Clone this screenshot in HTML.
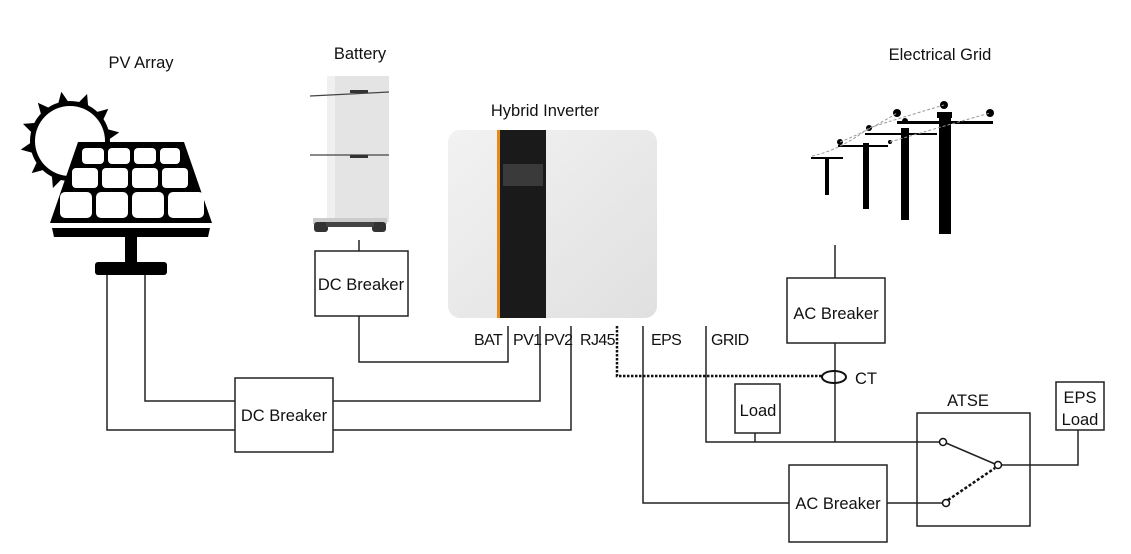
<!DOCTYPE html>
<html><head><meta charset="utf-8"><style>
html,body{margin:0;padding:0;background:#fff;width:1131px;height:554px;overflow:hidden}
svg{display:block}
text{font-family:"Liberation Sans",sans-serif;font-size:16.5px;fill:#111}
.p{font-size:16px;letter-spacing:-0.6px}
</style></head><body>
<svg width="1131" height="554" viewBox="0 0 1131 554">
<defs>
<linearGradient id="inv" x1="0" y1="0" x2="1" y2="1">
<stop offset="0" stop-color="#f2f2f2"/><stop offset="1" stop-color="#e0e0e0"/></linearGradient>
</defs>
<!-- titles -->
<text x="141" y="68" text-anchor="middle">PV Array</text>
<text x="360" y="59" text-anchor="middle">Battery</text>
<text x="545" y="116" text-anchor="middle">Hybrid Inverter</text>
<text x="940" y="60" text-anchor="middle">Electrical Grid</text>

<!-- sun -->
<g fill="#000">
<circle cx="70" cy="141" r="40"/>
<g transform="translate(70,141)">
<polygon points="-6,-37 0,-50 6,-37" transform="rotate(-10)"/>
<polygon points="-6,-37 0,-50 6,-37" transform="rotate(20)"/>
<polygon points="-6,-37 0,-50 6,-37" transform="rotate(50)"/>
<polygon points="-6,-37 0,-50 6,-37" transform="rotate(-40)"/>
<polygon points="-6,-37 0,-50 6,-37" transform="rotate(-70)"/>
<polygon points="-6,-37 0,-50 6,-37" transform="rotate(-100)"/>
<polygon points="-6,-37 0,-50 6,-37" transform="rotate(-130)"/>
<polygon points="-6,-37 0,-50 6,-37" transform="rotate(-160)"/>
<polygon points="-6,-37 0,-50 6,-37" transform="rotate(80)"/>
</g>
</g>
<circle cx="70" cy="141" r="35" fill="#fff"/>
<!-- panel -->
<polygon points="78,142 184,142 212,223 50,223" fill="#000"/>
<g fill="#fff">
<rect x="82" y="148" width="22" height="16" rx="4"/><rect x="108" y="148" width="22" height="16" rx="4"/><rect x="134" y="148" width="22" height="16" rx="4"/><rect x="160" y="148" width="20" height="16" rx="4"/>
<rect x="72" y="168" width="26" height="20" rx="4"/><rect x="102" y="168" width="26" height="20" rx="4"/><rect x="132" y="168" width="26" height="20" rx="4"/><rect x="162" y="168" width="26" height="20" rx="4"/>
<rect x="60" y="192" width="32" height="26" rx="5"/><rect x="96" y="192" width="32" height="26" rx="5"/><rect x="132" y="192" width="32" height="26" rx="5"/><rect x="168" y="192" width="36" height="26" rx="5"/>
</g>
<polygon points="52,228 210,228 208,237 54,237" fill="#000"/>
<rect x="125" y="237" width="12" height="26" fill="#000"/>
<rect x="95" y="262" width="72" height="13" rx="3" fill="#000"/>

<!-- battery -->
<rect x="327" y="76" width="62" height="146" fill="#e4e4e4"/>
<rect x="327" y="76" width="8" height="146" fill="#f0f0f0"/>
<line x1="310" y1="96" x2="389" y2="92" stroke="#444" stroke-width="1.2"/>
<line x1="310" y1="155" x2="389" y2="155" stroke="#444" stroke-width="1.2"/>
<rect x="350" y="90" width="18" height="3" fill="#333"/>
<rect x="350" y="155" width="18" height="3" fill="#333"/>
<rect x="313" y="218" width="74" height="6" fill="#ccc"/>
<rect x="314" y="222" width="14" height="10" rx="3" fill="#333"/>
<rect x="372" y="222" width="14" height="10" rx="3" fill="#333"/>
<rect x="326" y="222" width="48" height="5" fill="#444"/>

<!-- inverter -->
<rect x="448" y="130" width="209" height="188" rx="12" fill="url(#inv)"/>
<rect x="500" y="130" width="46" height="188" fill="#1a1a1a"/>
<rect x="497" y="130" width="3" height="188" fill="#e8891a"/>
<rect x="503" y="164" width="40" height="22" fill="#3a3a3a"/>

<!-- grid poles -->
<g fill="#000">
<rect x="825" y="157" width="4" height="38"/>
<rect x="863" y="143" width="6" height="66"/>
<rect x="901" y="128" width="8" height="92"/>
<rect x="939" y="112" width="12" height="122"/>
<rect x="811" y="157" width="32" height="2"/>
<rect x="838" y="145" width="50" height="2"/>
<rect x="865" y="133" width="72" height="2"/>
<rect x="897" y="121" width="96" height="3"/>
<rect x="937" y="112" width="15" height="6"/>
<circle cx="897" cy="113" r="4"/><circle cx="944" cy="105" r="4"/><circle cx="990" cy="113" r="4"/>
<circle cx="869" cy="128" r="3"/><circle cx="905" cy="121" r="3"/>
<circle cx="840" cy="142" r="3"/><circle cx="890" cy="142" r="2"/>
</g>
<g stroke="#999" stroke-width="1" fill="none" stroke-dasharray="3,2">
<path d="M812,156 Q840,150 869,128 Q900,118 944,105"/>
<path d="M840,142 Q870,130 897,113"/>
<path d="M890,142 Q930,130 990,113"/>
</g>

<!-- wiring -->
<g stroke="#222" stroke-width="1.5" fill="none">
<polyline points="107,275 107,430 235,430"/>
<polyline points="145,275 145,401 235,401"/>
<rect x="235" y="378" width="98" height="74"/>
<polyline points="333,401 540,401 540,326"/>
<polyline points="333,430 571,430 571,326"/>
<line x1="359" y1="240" x2="359" y2="251"/>
<rect x="315" y="251" width="93" height="65"/>
<polyline points="359,316 359,362 508,362 508,326"/>
<polyline points="643,326 643,503 789,503"/>
<rect x="789" y="465" width="98" height="77"/>
<polyline points="887,503 943,503"/>
<polyline points="706,326 706,442 940,442"/>
<line x1="835" y1="245" x2="835" y2="278"/>
<rect x="787" y="278" width="98" height="65"/>
<line x1="835" y1="343" x2="835" y2="442"/>
<rect x="735" y="384" width="45" height="49"/>
<line x1="755" y1="433" x2="755" y2="442"/>
<rect x="917" y="413" width="113" height="113"/>
<line x1="946" y1="443" x2="995" y2="464"/>
<polyline points="1002,465 1078,465 1078,430"/>
<rect x="1056" y="382" width="48" height="48"/>
</g>
<polyline points="617,326 617,376 822,376" stroke="#111" stroke-width="2.5" fill="none" stroke-dasharray="2.5,1.5"/>
<ellipse cx="834" cy="377" rx="12" ry="6" stroke="#111" stroke-width="2" fill="none"/>
<line x1="948" y1="500" x2="995" y2="468" stroke="#111" stroke-width="2.5" stroke-dasharray="3,2"/>
<g stroke="#111" stroke-width="1.5" fill="#fff">
<circle cx="943" cy="442" r="3.5"/><circle cx="998" cy="465" r="3.5"/><circle cx="946" cy="503" r="3.5"/>
</g>

<!-- labels -->
<text x="361" y="290" text-anchor="middle">DC Breaker</text>
<text x="284" y="421" text-anchor="middle">DC Breaker</text>
<text x="836" y="319" text-anchor="middle">AC Breaker</text>
<text x="838" y="509" text-anchor="middle">AC Breaker</text>
<text x="758" y="416" text-anchor="middle">Load</text>
<text x="968" y="406" text-anchor="middle">ATSE</text>
<text x="1080" y="403" text-anchor="middle">EPS</text>
<text x="1080" y="425" text-anchor="middle">Load</text>
<text x="855" y="384">CT</text>
<text class="p" x="474" y="345">BAT</text>
<text class="p" x="513" y="345">PV1</text>
<text class="p" x="544" y="345">PV2</text>
<text class="p" x="580" y="345">RJ45</text>
<text class="p" x="651" y="345">EPS</text>
<text class="p" x="711" y="345">GRID</text>
</svg>
</body></html>
